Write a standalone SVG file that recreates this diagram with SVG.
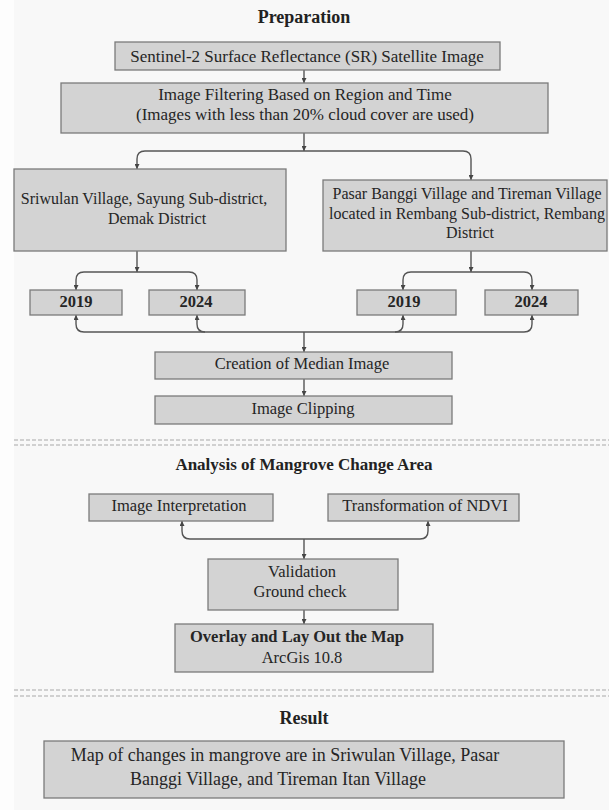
<svg xmlns="http://www.w3.org/2000/svg" width="609" height="810" viewBox="0 0 609 810">
<style>
.bg{fill:#f8f8f8}
.box{fill:#d3d3d3;stroke:#7a7a7a;stroke-width:1.3}
.t{font-family:"Liberation Serif","Times New Roman",serif;font-size:16.5px;fill:#252525;text-anchor:middle}
.s16{font-size:16px}
.s17{font-size:17px}
.s18{font-size:18px}
.b{font-weight:bold}
.h{font-family:"Liberation Serif","Times New Roman",serif;font-size:18px;font-weight:bold;fill:#222222;text-anchor:middle}
.c{fill:none;stroke:#555555;stroke-width:1.4}
.d{fill:none;stroke:#a8a8a8;stroke-width:1;stroke-dasharray:4 2}
</style>
<defs>
<marker id="ar" viewBox="0 0 6 6" refX="6" refY="3" markerWidth="5" markerHeight="5" orient="auto" markerUnits="userSpaceOnUse">
<path d="M0,0 L6,3 L0,6 z" fill="#454545"/>
</marker>
</defs>
<rect width="609" height="810" fill="#fdfdfd"/>
<rect x="14" y="0" width="595" height="810" class="bg"/>

<g id="sections">
<text class="h" x="304" y="23">Preparation</text>
<line class="d" x1="14" y1="440" x2="609" y2="440"/>
<line class="d" x1="14" y1="445" x2="609" y2="445"/>
<text class="h" x="304" y="470" style="font-size:17px">Analysis of Mangrove Change Area</text>
<line class="d" x1="14" y1="690" x2="609" y2="690"/>
<line class="d" x1="14" y1="696" x2="609" y2="696"/>
<text class="h" x="304" y="724">Result</text>
</g>

<g id="connectors">
<path class="c" d="M304,70 V83" marker-end="url(#ar)"/>
<path class="c" d="M304,133 V151" marker-end="url(#ar)"/>
<path class="c" d="M304,151 H145 Q137,151 137,159 V169" marker-end="url(#ar)"/>
<path class="c" d="M304,151 H463 Q471,151 471,159 V180" marker-end="url(#ar)"/>
<path class="c" d="M137,251 V272" marker-end="url(#ar)"/>
<path class="c" d="M137,272 H84 Q76,272 76,280 V290" marker-end="url(#ar)"/>
<path class="c" d="M137,272 H189 Q197,272 197,280 V290" marker-end="url(#ar)"/>
<path class="c" d="M471,251 V272" marker-end="url(#ar)"/>
<path class="c" d="M471,272 H411 Q403,272 403,280 V290" marker-end="url(#ar)"/>
<path class="c" d="M471,272 H524 Q532,272 532,280 V290" marker-end="url(#ar)"/>
<path class="c" d="M304,332 H84 Q76,332 76,324 V315" marker-end="url(#ar)"/>
<path class="c" d="M205,332 Q197,332 197,324 V315" marker-end="url(#ar)"/>
<path class="c" d="M395,332 Q403,332 403,324 V315" marker-end="url(#ar)"/>
<path class="c" d="M304,332 H524 Q532,332 532,324 V315" marker-end="url(#ar)"/>
<path class="c" d="M304,332 V352" marker-end="url(#ar)"/>
<path class="c" d="M304,379 V396" marker-end="url(#ar)"/>
<path class="c" d="M304,539 H190 Q182,539 182,531 V521" marker-end="url(#ar)"/>
<path class="c" d="M304,539 H420 Q428,539 428,531 V521" marker-end="url(#ar)"/>
<path class="c" d="M304,539 V559" marker-end="url(#ar)"/>
<path class="c" d="M304,610 V624" marker-end="url(#ar)"/>
</g>

<g id="n-sentinel">
<rect class="box" x="115" y="42" width="385" height="28"/>
<text class="t s17" x="307" y="62">Sentinel-2 Surface Reflectance (SR) Satellite Image</text>
</g>
<g id="n-filter">
<rect class="box" x="61" y="83" width="487" height="50"/>
<text class="t s17" x="305" y="100">Image Filtering Based on Region and Time</text>
<text class="t s17" x="305" y="120">(Images with less than 20% cloud cover are used)</text>
</g>
<g id="n-sriwulan">
<rect class="box" x="14" y="169" width="272" height="82"/>
<text class="t s16" x="144" y="204">Sriwulan Village, Sayung Sub-district,</text>
<text class="t s16" x="157" y="224">Demak District</text>
</g>
<g id="n-pasar">
<rect class="box" x="323" y="180" width="284" height="71"/>
<text class="t s16" x="467" y="199">Pasar Banggi Village and Tireman Village</text>
<text class="t s16" x="467" y="219">located in Rembang Sub-district, Rembang</text>
<text class="t s16" x="470" y="238">District</text>
</g>
<g id="n-l2019">
<rect class="box" x="30" y="290" width="92" height="25"/>
<text class="t b" x="76" y="307">2019</text>
</g>
<g id="n-l2024">
<rect class="box" x="149" y="290" width="96" height="25"/>
<text class="t b" x="196" y="307">2024</text>
</g>
<g id="n-r2019">
<rect class="box" x="357" y="290" width="99" height="25"/>
<text class="t b" x="404" y="307">2019</text>
</g>
<g id="n-r2024">
<rect class="box" x="485" y="290" width="93" height="25"/>
<text class="t b" x="531" y="307">2024</text>
</g>
<g id="n-median">
<rect class="box" x="155" y="352" width="297" height="27"/>
<text class="t" x="302" y="369">Creation of Median Image</text>
</g>
<g id="n-clip">
<rect class="box" x="155" y="396" width="297" height="28"/>
<text class="t" x="303" y="414">Image Clipping</text>
</g>
<g id="n-interp">
<rect class="box" x="89" y="494" width="184" height="27"/>
<text class="t" x="179" y="511">Image Interpretation</text>
</g>
<g id="n-ndvi">
<rect class="box" x="328" y="494" width="191" height="27"/>
<text class="t" x="425" y="511">Transformation of NDVI</text>
</g>
<g id="n-valid">
<rect class="box" x="208" y="559" width="190" height="51"/>
<text class="t" x="302" y="577">Validation</text>
<text class="t" x="300" y="597">Ground check</text>
</g>
<g id="n-overlay">
<rect class="box" x="175" y="624" width="258" height="48"/>
<text class="t b" x="297" y="642">Overlay and Lay Out the Map</text>
<text class="t" x="302" y="663">ArcGis 10.8</text>
</g>
<g id="n-result">
<rect class="box" x="44" y="741" width="520" height="57"/>
<text class="t s18" x="285" y="761">Map of changes in mangrove are in Sriwulan Village, Pasar</text>
<text class="t s18" x="278" y="785">Banggi Village, and Tireman Itan Village</text>
</g>
</svg>
